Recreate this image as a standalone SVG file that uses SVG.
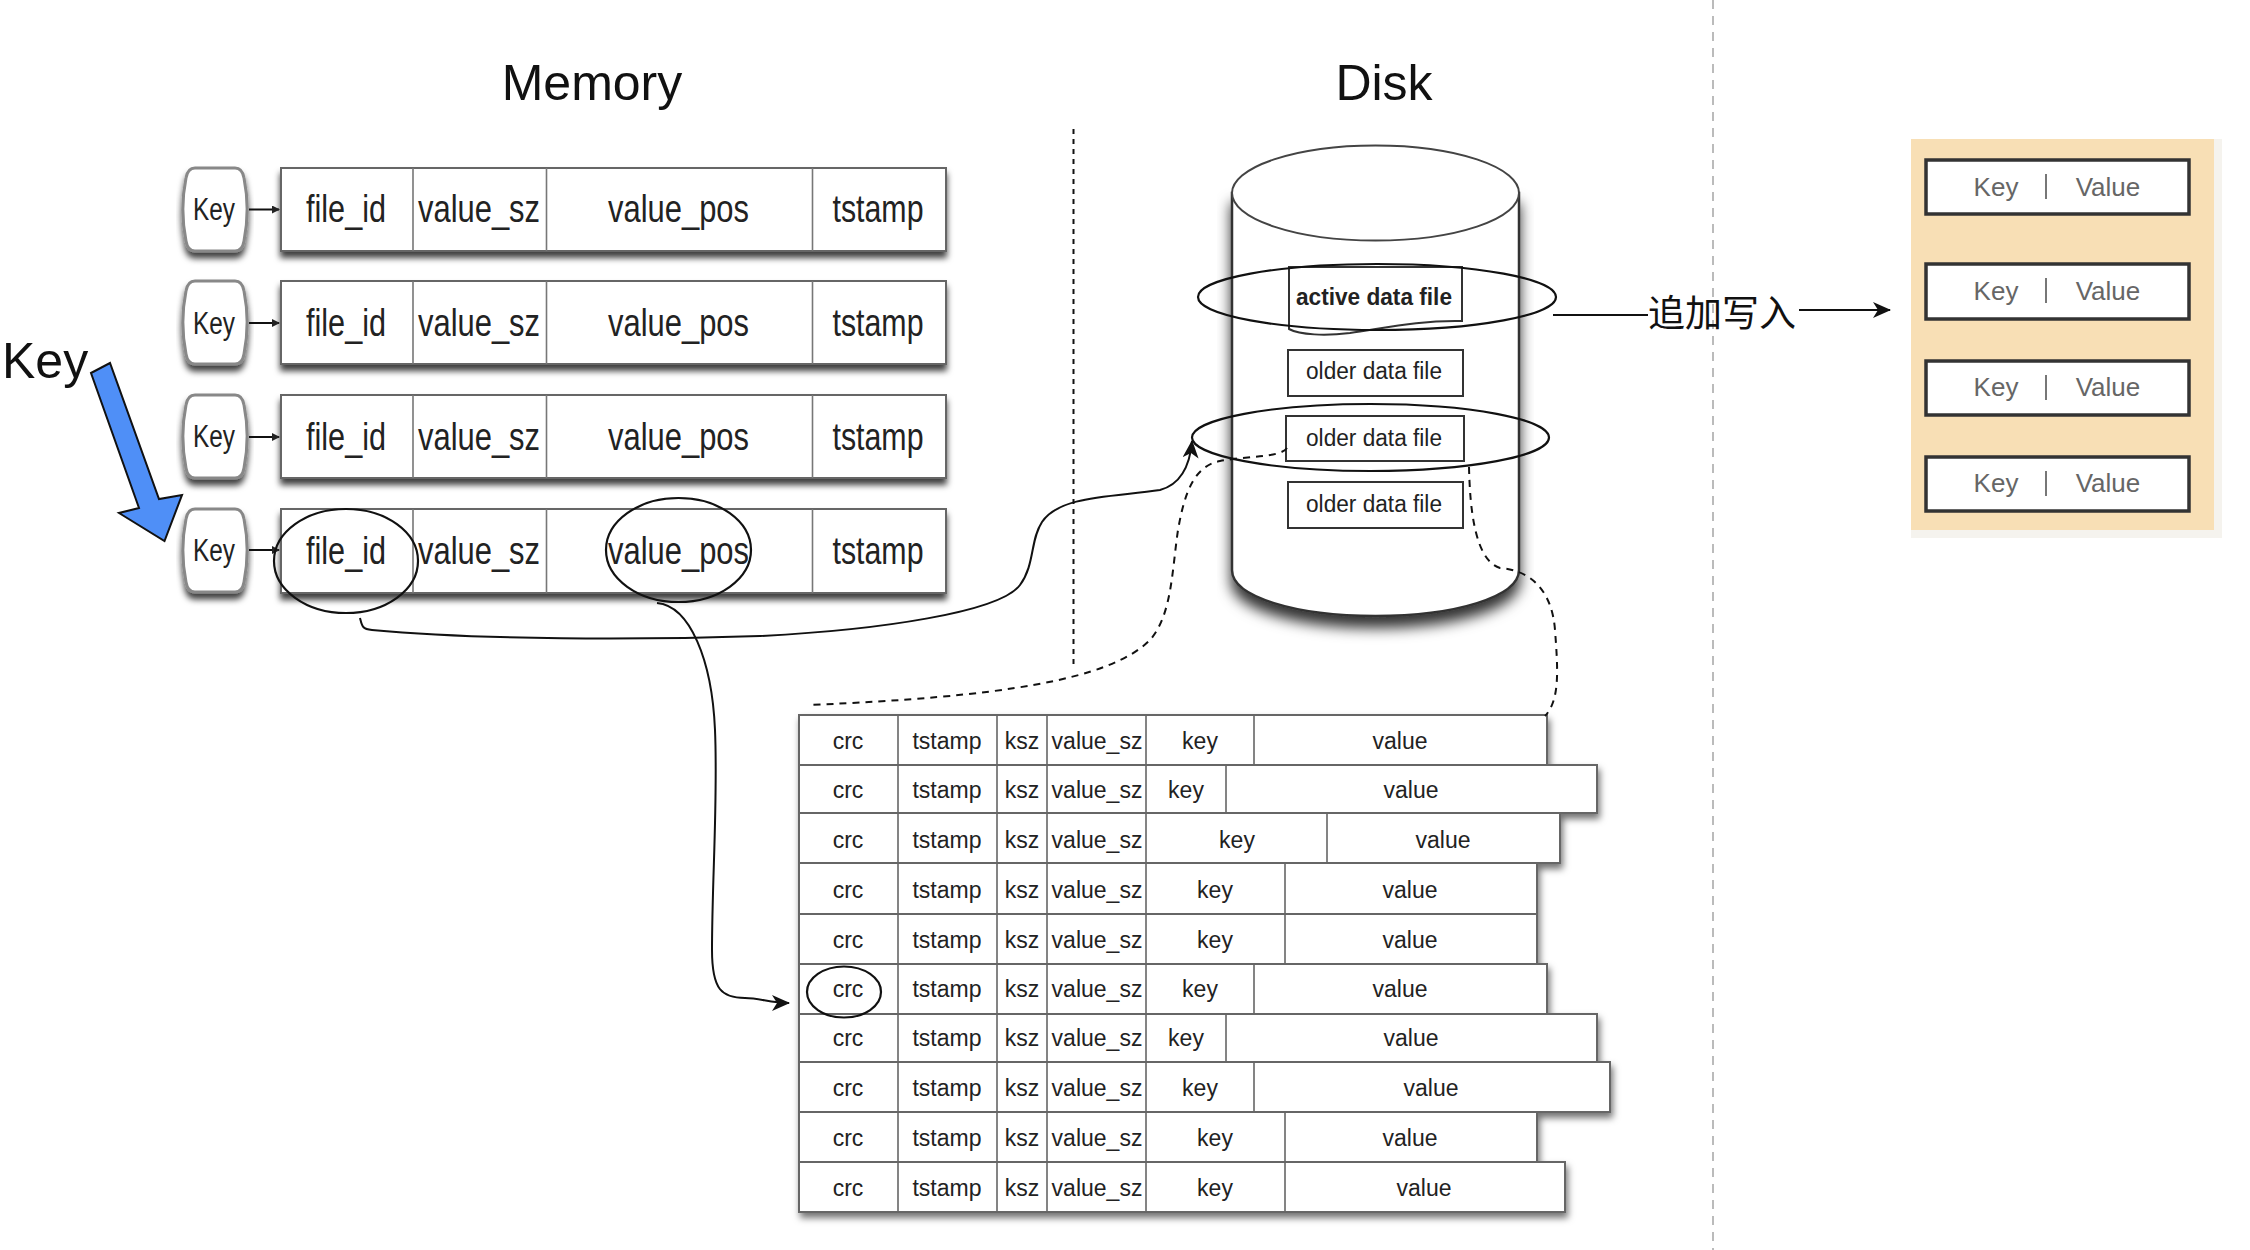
<svg xmlns="http://www.w3.org/2000/svg" width="2250" height="1250" viewBox="0 0 2250 1250">
<style>
text{font-family:"Liberation Sans",Arial,sans-serif;text-anchor:middle;fill:#111}
.title{font-size:50px}
.m{font-size:38px;fill:#222}
.mk{font-size:31px;fill:#222}
.c{font-size:23px;fill:#222}
.f{font-size:23px;fill:#222}
.kv{font-size:26px;fill:#666}
.cell{fill:#fff;stroke:#666;stroke-width:2}
.div{stroke:#777;stroke-width:1.6}
.rdiv{stroke:#666;stroke-width:1.6}
.pill{fill:#fff;stroke:#888;stroke-width:3}
.ring{fill:none;stroke:#111;stroke-width:2.2}
.box{fill:#fff;stroke:#333;stroke-width:2}
.kvb{fill:#fff;stroke:#333;stroke-width:3.5}
.con{fill:none;stroke:#111;stroke-width:2}
.dash{fill:none;stroke:#111;stroke-width:2;stroke-dasharray:7 6}
</style>
<defs>
<filter id="sh" x="-10%" y="-10%" width="120%" height="130%"><feDropShadow dx="0" dy="6" stdDeviation="3" flood-color="#000" flood-opacity=".75"/></filter>
<filter id="sh2" x="-10%" y="-10%" width="120%" height="120%"><feDropShadow dx="2" dy="5" stdDeviation="3.5" flood-color="#000" flood-opacity=".55"/></filter>
<filter id="sh3" x="-5%" y="-5%" width="110%" height="112%"><feDropShadow dx="0" dy="11" stdDeviation="7" flood-color="#000" flood-opacity=".8"/></filter>
<marker id="a" viewBox="0 0 18 16" refX="17" refY="8" markerWidth="18" markerHeight="16" markerUnits="userSpaceOnUse" orient="auto"><path d="M0 0L18 8L0 16L5 8Z" fill="#111"/></marker>
<marker id="s" viewBox="0 0 8 8" refX="7" refY="4" markerWidth="8" markerHeight="8" markerUnits="userSpaceOnUse" orient="auto"><path d="M0 0L8 4L0 8Z" fill="#222"/></marker>
<path id="pillshape" d="M195 0H235C240 0 243 4 244 10C248 30 248 53 244 73C243 79 240 83 235 83H195C190 83 187 79 186 73C182 53 182 30 186 10C187 4 190 0 195 0Z" class="pill"/>
</defs>
<rect width="2250" height="1250" fill="#fff"/>

<text id="memory-title" class="title" x="592" y="100">Memory</text>
<text id="disk-title" class="title" x="1384" y="100">Disk</text>
<line x1="1073.500" y1="129" x2="1073.500" y2="667" stroke="#111" stroke-width="2" stroke-dasharray="5 5"/>
<line x1="1713" y1="0" x2="1713" y2="1250" stroke="#bbb" stroke-width="2" stroke-dasharray="9 7"/>

<g id="mem-row-1">
<use href="#pillshape" y="168" filter="url(#sh)"/><text class="mk" x="214" y="220" textLength="42" lengthAdjust="spacingAndGlyphs">Key</text>
<rect class="cell" x="281" y="168" width="665" height="83" filter="url(#sh)"/><path class="div" d="M413 168V251M546.500 168V251M812.500 168V251"/>
<text class="m" x="346" y="222" textLength="80" lengthAdjust="spacingAndGlyphs">file_id</text><text class="m" x="479" y="222" textLength="122" lengthAdjust="spacingAndGlyphs">value_sz</text><text class="m" x="678.500" y="222" textLength="141" lengthAdjust="spacingAndGlyphs">value_pos</text><text class="m" x="878" y="222" textLength="91" lengthAdjust="spacingAndGlyphs">tstamp</text>
</g>
<g id="mem-row-2">
<use href="#pillshape" y="281" filter="url(#sh)"/><text class="mk" x="214" y="334" textLength="42" lengthAdjust="spacingAndGlyphs">Key</text>
<rect class="cell" x="281" y="281" width="665" height="83" filter="url(#sh)"/><path class="div" d="M413 281V364M546.500 281V364M812.500 281V364"/>
<text class="m" x="346" y="336" textLength="80" lengthAdjust="spacingAndGlyphs">file_id</text><text class="m" x="479" y="336" textLength="122" lengthAdjust="spacingAndGlyphs">value_sz</text><text class="m" x="678.500" y="336" textLength="141" lengthAdjust="spacingAndGlyphs">value_pos</text><text class="m" x="878" y="336" textLength="91" lengthAdjust="spacingAndGlyphs">tstamp</text>
</g>
<g id="mem-row-3">
<use href="#pillshape" y="395" filter="url(#sh)"/><text class="mk" x="214" y="447" textLength="42" lengthAdjust="spacingAndGlyphs">Key</text>
<rect class="cell" x="281" y="395" width="665" height="83" filter="url(#sh)"/><path class="div" d="M413 395V478M546.500 395V478M812.500 395V478"/>
<text class="m" x="346" y="450" textLength="80" lengthAdjust="spacingAndGlyphs">file_id</text><text class="m" x="479" y="450" textLength="122" lengthAdjust="spacingAndGlyphs">value_sz</text><text class="m" x="678.500" y="450" textLength="141" lengthAdjust="spacingAndGlyphs">value_pos</text><text class="m" x="878" y="450" textLength="91" lengthAdjust="spacingAndGlyphs">tstamp</text>
</g>
<g id="mem-row-4">
<use href="#pillshape" y="509" filter="url(#sh)"/><text class="mk" x="214" y="561" textLength="42" lengthAdjust="spacingAndGlyphs">Key</text>
<rect class="cell" x="281" y="509" width="665" height="84" filter="url(#sh)"/><path class="div" d="M413 509V593M546.500 509V593M812.500 509V593"/>
<text class="m" x="346" y="564" textLength="80" lengthAdjust="spacingAndGlyphs">file_id</text><text class="m" x="479" y="564" textLength="122" lengthAdjust="spacingAndGlyphs">value_sz</text><text class="m" x="678.500" y="564" textLength="141" lengthAdjust="spacingAndGlyphs">value_pos</text><text class="m" x="878" y="564" textLength="91" lengthAdjust="spacingAndGlyphs">tstamp</text>
</g>

<g id="disk">
<path d="M1232 193V570C1232 597 1296 616 1375.500 616C1455 616 1519 597 1519 570V193Z" fill="#fff" stroke="#333" stroke-width="2.500" filter="url(#sh3)"/>
<ellipse cx="1375.500" cy="193" rx="143.500" ry="47.500" fill="#fff" stroke="#444" stroke-width="2"/>
</g>
<g id="active-file"><path class="box" d="M1289 267H1462V321C1420 320 1385 328 1350 333C1325 336 1300 335 1289 329Z"/><text class="f" x="1374" y="305" font-weight="bold" textLength="156" lengthAdjust="spacingAndGlyphs">active data file</text></g>
<g id="older-file-1"><rect class="box" x="1288" y="350" width="175" height="46"/><text class="f" x="1374" y="379" textLength="136" lengthAdjust="spacingAndGlyphs">older data file</text></g>
<g id="older-file-2"><rect class="box" x="1286" y="416" width="178" height="45"/><text class="f" x="1374" y="446" textLength="136" lengthAdjust="spacingAndGlyphs">older data file</text></g>
<g id="older-file-3"><rect class="box" x="1288" y="482" width="175" height="46"/><text class="f" x="1374" y="512" textLength="136" lengthAdjust="spacingAndGlyphs">older data file</text></g>

<g id="data-table" filter="url(#sh2)">
<rect class="cell" x="799" y="715" width="748" height="50"/>
<rect class="cell" x="799" y="765" width="798" height="48"/>
<rect class="cell" x="799" y="813" width="761" height="50"/>
<rect class="cell" x="799" y="863" width="738" height="51"/>
<rect class="cell" x="799" y="914" width="738" height="50"/>
<rect class="cell" x="799" y="964" width="748" height="50"/>
<rect class="cell" x="799" y="1014" width="798" height="48"/>
<rect class="cell" x="799" y="1062" width="811" height="50"/>
<rect class="cell" x="799" y="1112" width="738" height="50"/>
<rect class="cell" x="799" y="1162" width="766" height="50"/>
</g>
<g id="data-table-dividers">
<path class="rdiv" d="M898 715V1212M997 715V1212M1047 715V1212M1146 715V1212"/>
<path class="rdiv" d="M1254 715V765M1226 765V813M1327 813V863M1285 863V964M1254 964V1014M1226 1014V1062M1254 1062V1112M1285 1112V1212"/>
</g>
<g id="data-table-text">
<text class="c" x="848" y="749">crc</text><text class="c" x="947" y="749">tstamp</text><text class="c" x="1022" y="749">ksz</text><text class="c" x="1097" y="749">value_sz</text><text class="c" x="1200" y="749">key</text><text class="c" x="1400" y="749">value</text>
<text class="c" x="848" y="798">crc</text><text class="c" x="947" y="798">tstamp</text><text class="c" x="1022" y="798">ksz</text><text class="c" x="1097" y="798">value_sz</text><text class="c" x="1186" y="798">key</text><text class="c" x="1411" y="798">value</text>
<text class="c" x="848" y="848">crc</text><text class="c" x="947" y="848">tstamp</text><text class="c" x="1022" y="848">ksz</text><text class="c" x="1097" y="848">value_sz</text><text class="c" x="1237" y="848">key</text><text class="c" x="1443" y="848">value</text>
<text class="c" x="848" y="898">crc</text><text class="c" x="947" y="898">tstamp</text><text class="c" x="1022" y="898">ksz</text><text class="c" x="1097" y="898">value_sz</text><text class="c" x="1215" y="898">key</text><text class="c" x="1410" y="898">value</text>
<text class="c" x="848" y="948">crc</text><text class="c" x="947" y="948">tstamp</text><text class="c" x="1022" y="948">ksz</text><text class="c" x="1097" y="948">value_sz</text><text class="c" x="1215" y="948">key</text><text class="c" x="1410" y="948">value</text>
<text class="c" x="848" y="997">crc</text><text class="c" x="947" y="997">tstamp</text><text class="c" x="1022" y="997">ksz</text><text class="c" x="1097" y="997">value_sz</text><text class="c" x="1200" y="997">key</text><text class="c" x="1400" y="997">value</text>
<text class="c" x="848" y="1046">crc</text><text class="c" x="947" y="1046">tstamp</text><text class="c" x="1022" y="1046">ksz</text><text class="c" x="1097" y="1046">value_sz</text><text class="c" x="1186" y="1046">key</text><text class="c" x="1411" y="1046">value</text>
<text class="c" x="848" y="1096">crc</text><text class="c" x="947" y="1096">tstamp</text><text class="c" x="1022" y="1096">ksz</text><text class="c" x="1097" y="1096">value_sz</text><text class="c" x="1200" y="1096">key</text><text class="c" x="1431" y="1096">value</text>
<text class="c" x="848" y="1146">crc</text><text class="c" x="947" y="1146">tstamp</text><text class="c" x="1022" y="1146">ksz</text><text class="c" x="1097" y="1146">value_sz</text><text class="c" x="1215" y="1146">key</text><text class="c" x="1410" y="1146">value</text>
<text class="c" x="848" y="1196">crc</text><text class="c" x="947" y="1196">tstamp</text><text class="c" x="1022" y="1196">ksz</text><text class="c" x="1097" y="1196">value_sz</text><text class="c" x="1215" y="1196">key</text><text class="c" x="1424" y="1196">value</text>
</g>

<g id="wal-panel">
<rect x="1911" y="139" width="311" height="399" fill="#f5f3ee"/>
<rect x="1911" y="139" width="303" height="391" fill="#f8dfb5"/>
</g>
<g id="kv-1"><rect class="kvb" x="1926" y="160" width="263" height="54"/><text class="kv" x="1996" y="196">Key</text><line x1="2046" y1="174" x2="2046" y2="199" stroke="#777" stroke-width="2"/><text class="kv" x="2108" y="196">Value</text></g>
<g id="kv-2"><rect class="kvb" x="1926" y="264" width="263" height="55"/><text class="kv" x="1996" y="300">Key</text><line x1="2046" y1="278" x2="2046" y2="303" stroke="#777" stroke-width="2"/><text class="kv" x="2108" y="300">Value</text></g>
<g id="kv-3"><rect class="kvb" x="1926" y="361" width="263" height="54"/><text class="kv" x="1996" y="396">Key</text><line x1="2046" y1="375" x2="2046" y2="400" stroke="#777" stroke-width="2"/><text class="kv" x="2108" y="396">Value</text></g>
<g id="kv-4"><rect class="kvb" x="1926" y="457" width="263" height="54"/><text class="kv" x="1996" y="492">Key</text><line x1="2046" y1="471" x2="2046" y2="496" stroke="#777" stroke-width="2"/><text class="kv" x="2108" y="492">Value</text></g>

<g id="key-input">
<text style="font-size:50px;text-anchor:start" x="2" y="378">Key</text>
<path d="M91 373L110 363L159 499L182 495L164.500 541L119 513L139 508Z" fill="#4f8ff7" stroke="#111" stroke-width="2"/>
</g>

<g id="connectors">
<path class="con" marker-end="url(#s)" d="M249 209.500H279"/>
<path class="con" marker-end="url(#s)" d="M249 323H279"/>
<path class="con" marker-end="url(#s)" d="M249 437H279"/>
<path class="con" marker-end="url(#s)" d="M249 550H279"/>
<path class="con" marker-end="url(#a)" d="M360 618C362 626 362 629 372 630C480 640 640 640 760 636C880 630 1000 612 1020 585C1035 565 1030 540 1042 522C1060 495 1115 497 1160 490C1182 484 1190 465 1192 441"/>
<path class="con" marker-end="url(#a)" d="M657 603C690 606 712 660 715 730C718 800 712 880 712 950C712 990 722 998 745 998C760 998 770 1003 789 1003"/>
<path class="dash" d="M1287 448C1280 458 1245 456 1220 461C1195 466 1185 490 1178 530C1172 570 1172 615 1150 640C1110 680 1000 697 809 705"/>
<path class="dash" d="M1469 467C1470 510 1475 560 1500 568C1530 570 1552 590 1555 630C1558 670 1560 700 1545 716"/>
<line class="con" x1="1553" y1="315" x2="1648" y2="315"/>
<line class="con" marker-end="url(#a)" x1="1799" y1="310" x2="1890" y2="310"/>
</g>
<text id="append-label" x="1722" y="327" style="font-size:37px;font-family:'Liberation Sans','Noto Sans CJK SC',sans-serif">追加写入</text>

<g id="highlights">
<ellipse class="ring" cx="346" cy="561" rx="72" ry="52"/>
<ellipse class="ring" cx="678.500" cy="550" rx="72.500" ry="52"/>
<ellipse class="ring" cx="1377" cy="297" rx="179" ry="33"/>
<ellipse class="ring" cx="1370.500" cy="437.500" rx="178.500" ry="33.500"/>
<ellipse class="ring" cx="844" cy="992" rx="37" ry="25.500"/>
</g>
</svg>
